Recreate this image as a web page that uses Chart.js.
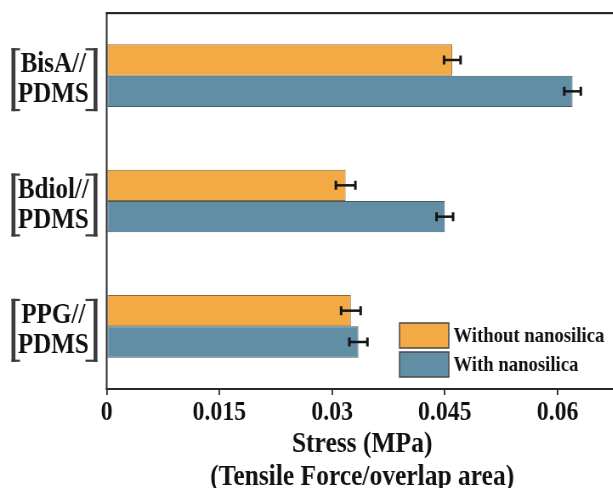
<!DOCTYPE html>
<html>
<head>
<meta charset="utf-8">
<script src="https://cdn.jsdelivr.net/npm/chart.js@4/dist/chart.umd.min.js"></script>
<style>
  html, body { margin:0; padding:0; background:#fff; overflow:hidden; }
  #wrap { width:736px; height:488px; transform:scaleX(0.85); transform-origin:0 0; }
</style>
</head>
<body>
<div id="wrap"><canvas id="c" width="736" height="488"></canvas></div>
<script>
// ---- data ----
const categories = [['BisA//','PDMS'], ['Bdiol//','PDMS'], ['PPG//','PDMS']];
const seriesNames = ['Without nanosilica', 'With nanosilica'];
const withoutNano = [0.0460, 0.0318, 0.0325];
const withNano = [0.0620, 0.0450, 0.0335];
const errWithout = [0.0011, 0.0013, 0.0013];
const errWith = [0.0011, 0.0011, 0.0012];
const xTickValues = [0, 0.015, 0.03, 0.045, 0.06];
const xTickLabels = ['0', '0.015', '0.03', '0.045', '0.06'];
const xTitle = ['Stress (MPa)', '(Tensile Force/overlap area)'];

const SERIF = "'Liberation Serif', 'Times New Roman', serif";
const W = 736;

const errorBars = {
  id: 'errorBars',
  afterDatasetsDraw(chart) {
    const ctx = chart.ctx, xs = chart.scales.x;
    chart.data.datasets.forEach((ds, di) => {
      const meta = chart.getDatasetMeta(di);
      meta.data.forEach((el, i) => {
        const v = ds.data[i], e = ds.errors[i];
        const lo = xs.getPixelForValue(v - e), hi = xs.getPixelForValue(v + e);
        const y = el.y;
        ctx.save();
        ctx.strokeStyle = '#151515';
        ctx.lineWidth = 2.5;
        ctx.beginPath(); ctx.moveTo(lo, y); ctx.lineTo(hi, y); ctx.stroke();
        ctx.lineWidth = 3;
        ctx.beginPath();
        ctx.moveTo(lo, y - 4.5); ctx.lineTo(lo, y + 4.5);
        ctx.moveTo(hi, y - 4.5); ctx.lineTo(hi, y + 4.5);
        ctx.stroke();
        ctx.restore();
      });
    });
  }
};

const frameAndDecor = {
  id: 'frameAndDecor',
  afterDraw(chart) {
    const ctx = chart.ctx, a = chart.chartArea, ys = chart.scales.y;
    ctx.save();
    // frame
    ctx.fillStyle = '#2a2a2a';
    ctx.fillRect(a.left - 1, a.top - 1, W - a.left + 1, 2.2);
    ctx.fillRect(a.left - 1, a.bottom - 1, W - a.left + 1, 2);
    ctx.fillRect(a.left - 1, a.top - 1, 2, a.bottom - a.top + 2);
    ctx.fillRect(a.right - 1, a.top - 1, 2, a.bottom - a.top + 2);
    // brackets around category labels
    ctx.fillStyle = '#3c3c3c';
    categories.forEach((c, i) => {
      const cy = ys.getPixelForTick(i) + 4;
      const top = cy - 31.5, h = 63;
      ctx.fillRect(13.5, top, 4.6, h);
      ctx.fillRect(13.5, top, 10, 2.2);
      ctx.fillRect(13.5, top + h - 2.2, 10, 2.2);
      ctx.fillRect(110, top, 4.6, h);
      ctx.fillRect(100.5, top, 14.1, 2.2);
      ctx.fillRect(100.5, top + h - 2.2, 14.1, 2.2);
    });
    // legend
    const lx = 470, lw = 58, lh = 25;
    const rows = [323, 352];
    chart.data.datasets.forEach((ds, di) => {
      const y = rows[di];
      ctx.fillStyle = ds.backgroundColor;
      ctx.fillRect(lx, y, lw, lh);
      ctx.strokeStyle = '#4a4a4a';
      ctx.lineWidth = 1.5;
      ctx.strokeRect(lx, y, lw, lh);
      ctx.fillStyle = '#111';
      ctx.font = "bold 22px " + SERIF;
      ctx.textAlign = 'left';
      ctx.textBaseline = 'middle';
      ctx.fillText(ds.label, 533.5, y + lh / 2 + 1);
    });
    ctx.restore();
  }
};

new Chart(document.getElementById('c'), {
  type: 'bar',
  data: {
    labels: categories,
    datasets: [
      { label: seriesNames[0], data: withoutNano, errors: errWithout,
        backgroundColor: '#F3AA45', borderColor: '#8c6a3c', borderWidth: 1, borderSkipped: false },
      { label: seriesNames[1], data: withNano, errors: errWith,
        backgroundColor: '#618DA5', borderColor: '#3f5f70', borderWidth: 1, borderSkipped: false }
    ]
  },
  options: {
    indexAxis: 'y',
    responsive: false,
    animation: false,
    devicePixelRatio: 1,
    categoryPercentage: 0.5,
    barPercentage: 1.0,
    layout: { padding: { left: 0, right: W - 726.6, top: 13, bottom: 0 } },
    plugins: { legend: { display: false }, tooltip: { enabled: false } },
    scales: {
      x: {
        min: 0, max: 0.068,
        border: { display: false },
        grid: { display: true, drawOnChartArea: false, drawTicks: true, tickLength: 6, color: '#2a2a2a', lineWidth: 1.8 },
        afterBuildTicks(s) { s.ticks = xTickValues.map(v => ({ value: v })); },
        ticks: {
          padding: 0.5,
          color: '#111',
          font: { family: SERIF, size: 28, weight: 'bold', lineHeight: 1.2 },
          maxRotation: 0,
          callback: (v, i) => xTickLabels[i]
        },
        title: {
          display: true, text: xTitle, color: '#111',
          font: { family: SERIF, size: 30, weight: 'bold', lineHeight: 1.1 },
          padding: { top: 0, bottom: -6 }
        },
        afterFit(s) { s.height = 99; s.paddingLeft = 0; s.paddingRight = 0; }
      },
      y: {
        border: { display: false },
        grid: { display: false, drawTicks: false },
        ticks: {
          crossAlign: 'center',
          padding: 21,
          labelOffset: 4,
          color: '#111',
          font: { family: SERIF, size: 29.5, weight: 'bold', lineHeight: 1.02 },
        },
        afterFit(s) { s.width = 125.5; s.paddingTop = 0; s.paddingBottom = 0; }
      }
    }
  },
  plugins: [errorBars, frameAndDecor]
});
</script>
</body>
</html>
